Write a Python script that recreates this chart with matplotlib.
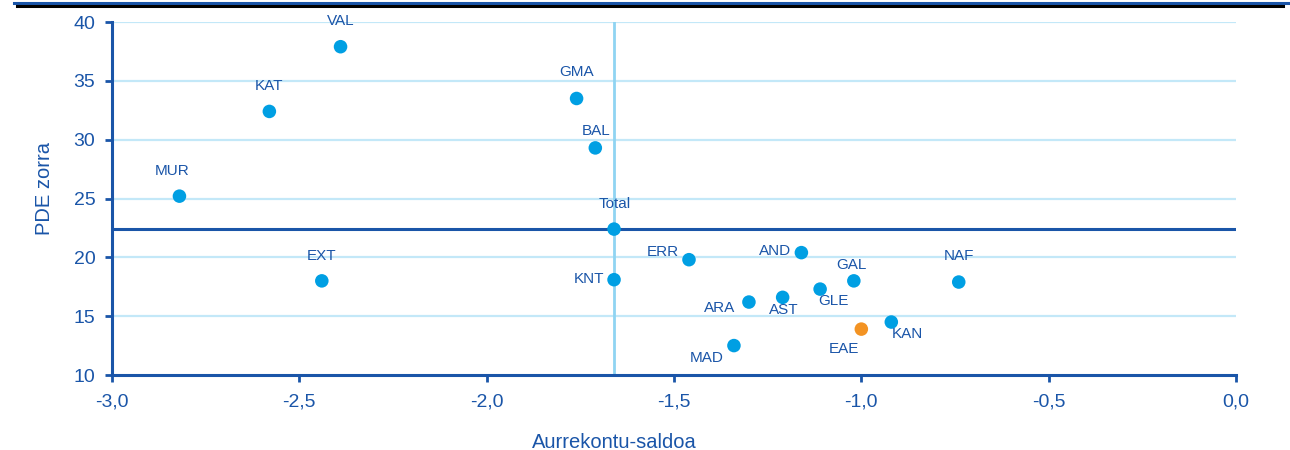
import matplotlib.pyplot as plt
from matplotlib.lines import Line2D
from matplotlib.ticker import FuncFormatter

plt.rcParams["font.family"] = ["Liberation Sans", "DejaVu Sans"]

# autonomous communities: budget balance (x) vs. PDE debt (y)
regions = ["VAL", "KAT", "MUR", "EXT", "GMA", "BAL", "Total", "KNT", "ERR", "AND",
           "GAL", "NAF", "GLE", "AST", "ARA", "KAN", "EAE", "MAD"]
balance = [-2.39, -2.58, -2.82, -2.44, -1.76, -1.71, -1.66, -1.66, -1.46, -1.16,
           -1.02, -0.74, -1.11, -1.21, -1.30, -0.92, -1.00, -1.34]
debt = [37.9, 32.4, 25.2, 18.0, 33.5, 29.3, 22.4, 18.1, 19.8, 20.4,
        18.0, 17.9, 17.3, 16.6, 16.2, 14.5, 13.9, 12.5]

# label offsets in pixels (dx, dy) and alignment
label_pos = {
    "VAL": (0, 26, "center"), "KAT": (0, 25, "center"), "MUR": (-7, 25, "center"),
    "EXT": (0, 25, "center"), "GMA": (0, 26, "center"), "BAL": (1, 17, "center"),
    "Total": (1, 25, "center"), "KNT": (-10, 1, "right"), "ERR": (-10, 8, "right"),
    "AND": (-10, 2, "right"), "GAL": (-2, 16, "center"), "NAF": (0, 26, "center"),
    "GLE": (13, -12, "center"), "AST": (1, -13, "center"), "ARA": (-14, -6, "right"),
    "KAN": (16, -12, "center"), "EAE": (-17, -20, "center"), "MAD": (-10, -12, "right"),
}

dark = "#1a55a8"
dot = "#009fe3"
orange = "#f39323"

fig = plt.figure(figsize=(12.9, 4.5), dpi=100)
ax = fig.add_axes([112 / 1290, 1 - 375 / 450, 1124 / 1290, 353 / 450])

ax.set_xlim(-3.0, 0.0)
ax.set_ylim(10, 40)
ax.set_xticks([-3.0, -2.5, -2.0, -1.5, -1.0, -0.5, 0.0])
ax.set_yticks([10, 15, 20, 25, 30, 35, 40])
ax.xaxis.set_major_formatter(FuncFormatter(lambda v, p: f"{v:.1f}".replace(".", ",")))

for yv in [15, 20, 25, 30, 35, 40]:
    ax.axhline(yv, color="#c3e8f8", lw=1.6, zorder=0)

tot_i = regions.index("Total")
ax.axvline(balance[tot_i], color="#8fd4f2", lw=2.0, zorder=1)
ax.axhline(debt[tot_i], color=dark, lw=2.2, zorder=1)

colors = [orange if r == "EAE" else dot for r in regions]
ax.scatter(balance, debt, s=95, c=colors, zorder=3, edgecolors="none")

for r, xv, yv in zip(regions, balance, debt):
    dx, dy, ha = label_pos[r]
    ax.annotate(r, (xv, yv), xytext=(dx, dy), textcoords="offset pixels",
                ha=ha, va="center", fontsize=11, color=dark, zorder=4)

for side in ["top", "right"]:
    ax.spines[side].set_visible(False)
for side in ["left", "bottom"]:
    ax.spines[side].set_color(dark)
    ax.spines[side].set_linewidth(2.2)

ax.tick_params(axis="both", colors=dark, labelcolor=dark, labelsize=14,
               length=5, width=2, direction="out")
ax.tick_params(axis="y", pad=7)
ax.tick_params(axis="x", pad=8)

ax.set_xlabel("Aurrekontu-saldoa", color=dark, fontsize=14.5)
ax.set_ylabel("PDE zorra", color=dark, fontsize=14.5)
ax.xaxis.set_label_coords(0.447, -0.165)
ax.yaxis.set_label_coords(-0.052, 0.527)

# cut-off page rule from the source document
fig.add_artist(Line2D([14 / 1290, 1290 / 1290], [1 - 2.5 / 450] * 2, color=dark, lw=2.2))
fig.add_artist(Line2D([17 / 1290, 1283 / 1290], [1 - 5.5 / 450] * 2, color="black", lw=2.2))

fig.savefig("out.png", dpi=100)
